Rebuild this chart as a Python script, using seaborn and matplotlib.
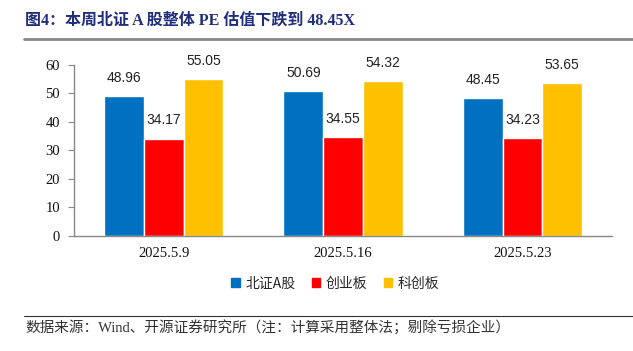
import matplotlib
matplotlib.use('Agg')
import matplotlib.pyplot as plt
import pandas as pd
import seaborn as sns

# 数据
dates = ['2025.5.9', '2025.5.16', '2025.5.23']
series_names = ['北证A股', '创业板', '科创板']
bz_values = [48.96, 50.69, 48.45]
cyb_values = [34.17, 34.55, 34.23]
kcb_values = [55.05, 54.32, 53.65]
y_ticks = [0, 10, 20, 30, 40, 50, 60]

colors = ['#0070C0', '#FF0000', '#FFC000']
CJK = ['Noto Sans CJK SC', 'DejaVu Sans']
SERIF = ['Liberation Serif', 'Noto Sans CJK SC']

sns.set_style('white')
plt.rcParams['font.family'] = CJK

df = pd.DataFrame({
    'date': dates * 3,
    'series': [s for s in series_names for _ in dates],
    'value': bz_values + cyb_values + kcb_values,
})

fig = plt.figure(figsize=(6.33, 3.51), dpi=100)
ax = fig.add_axes([0.117, 0.328, 0.85, 0.487])

sns.barplot(data=df, x='date', y='value', hue='series', palette=colors,
            width=0.665, saturation=1, ax=ax, legend=False)

for cont in ax.containers:
    ax.bar_label(cont, fmt='%.2f', padding=8, fontsize=10,
                 family=['Liberation Sans'], color='#222222')

ax.set_ylim(0, 60)
ax.set_xlim(-0.5, len(dates) - 0.5)
ax.set_yticks(y_ticks)
ax.set_xlabel('')
ax.set_ylabel('')
for lab in ax.get_yticklabels() + ax.get_xticklabels():
    lab.set_family(SERIF)
    lab.set_fontsize(10.5)
    lab.set_color('#111111')

# 分类边界刻度
ax.set_xticks([i - 0.5 for i in range(len(dates) + 1)], minor=True)
ax.tick_params(axis='x', which='major', length=0, pad=8)
ax.tick_params(axis='x', which='minor', length=5, direction='out', color='#888888')
ax.tick_params(axis='y', length=4, direction='out', color='#888888', left=True, pad=6)

for side in ['top', 'right']:
    ax.spines[side].set_visible(False)
for side in ['left', 'bottom']:
    ax.spines[side].set_color('#888888')
    ax.spines[side].set_linewidth(1.0)

# 图例
handles = [plt.Rectangle((0, 0), 1, 1, color=c) for c in colors]
fig.legend(handles, series_names, loc='center', bbox_to_anchor=(0.53, 0.192),
           ncol=3, frameon=False, fontsize=10, handlelength=0.6, handleheight=0.6,
           handletextpad=0.4, columnspacing=1.2)

# 标题与来源
fig.text(0.04, 0.942, '图4：本周北证 A 股整体 PE 估值下跌到 48.45X', family=SERIF,
         fontsize=11.5, fontweight='bold', color='#1F2D7B', va='center')
fig.add_artist(plt.Line2D([0.038, 1.0], [0.89, 0.89], color='#888888', lw=2))
fig.add_artist(plt.Line2D([0.038, 1.0], [0.1, 0.1], color='#333333', lw=0.8))
fig.text(0.04, 0.068, '数据来源：Wind、开源证券研究所（注：计算采用整体法；剔除亏损企业）',
         family=SERIF, fontsize=10.5, color='#333333', va='center')

fig.savefig('out.png', dpi=100)
